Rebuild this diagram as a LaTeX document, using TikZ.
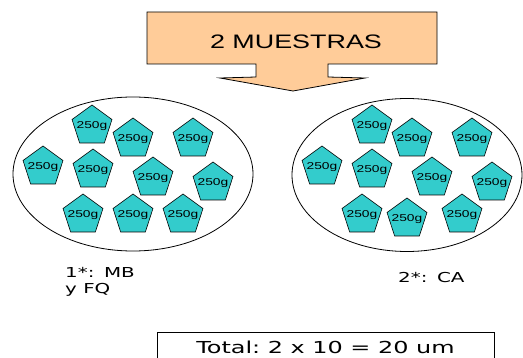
\documentclass[tikz,border=0pt]{standalone}
\usepackage{fontspec}
\setmainfont{Liberation Sans}
\newfontfamily\widesans[FakeStretch=1.38]{Liberation Sans}
\newfontfamily\widelabel[FakeStretch=1.45]{DejaVu Sans}
\usetikzlibrary{
    shapes.geometric
}
\definecolor{peach}{HTML}{FFCC99}
\definecolor{portioncyan}{HTML}{33CCCC}
\tikzset{
    bag/.style={draw, ellipse, inner sep=0pt, line width=0.8pt},
    portion/.style={draw, fill=portioncyan, regular polygon, regular polygon sides=5,
        minimum size=42pt, inner sep=0pt, line width=0.6pt,
        label={[inner sep=0pt, font=\widesans\fontsize{10}{10}\selectfont]center:250g}},
    note/.style={inner sep=0pt, align=left, font=\widelabel\fontsize{13.7}{16}\selectfont}
}

\begin{document}
\begin{tikzpicture}[x=1pt, y=-1pt]
                        \clip (0, 0) rectangle (523, 358);

                        % down arrow callout
                        \draw [fill=peach, line width=0.8pt]
                        (147, 12) -- (437, 12) -- (437, 64) -- (328, 64) -- (328, 77)
                        -- (365, 78) -- (293, 91) -- (220, 78) -- (256, 77)
                        -- (256, 64) -- (147, 64) -- cycle;
                        \node [anchor=base, font=\widesans\fontsize{19.5}{20}\selectfont] (title) at (296, 49) {2 MUESTRAS};

                        \node [bag, minimum width=240pt, minimum height=154pt] (bagA) at (133, 174) {};
                        \node [bag, minimum width=230pt, minimum height=153pt] (bagB) at (407, 175) {};

                        \foreach \px/\py [count=\i] in {92/126, 133/139, 193/139, 43/167, 93/170,
                            153/178, 213/183, 83/215, 133/215, 183/215}
                            \node [portion] (pa\i) at (\px, \py) {};
                        \foreach \px/\py [count=\i] in {372/126, 412/139, 472/139, 322/167, 372/170,
                            432/178, 492/183, 362/215, 407/219, 462/215}
                            \node [portion] (pb\i) at (\px, \py) {};

                        \node [note, anchor=north west] (noteA) at (65, 267) {1*:\hspace{0.7em}MB\\y FQ};
                        \node [note, anchor=base west] (noteB) at (398, 283) {2*:\hspace{0.7em}CA};

                        \node [draw, anchor=north, minimum width=337pt, inner ysep=9pt,
                            text height=12pt, text depth=3pt, line width=0.8pt,
                            font=\widelabel\fontsize{16.5}{18}\selectfont] (total) at (325.5, 332) {Total:\ 2 x 10 = 20 um};
                    \end{tikzpicture}
\end{document}
